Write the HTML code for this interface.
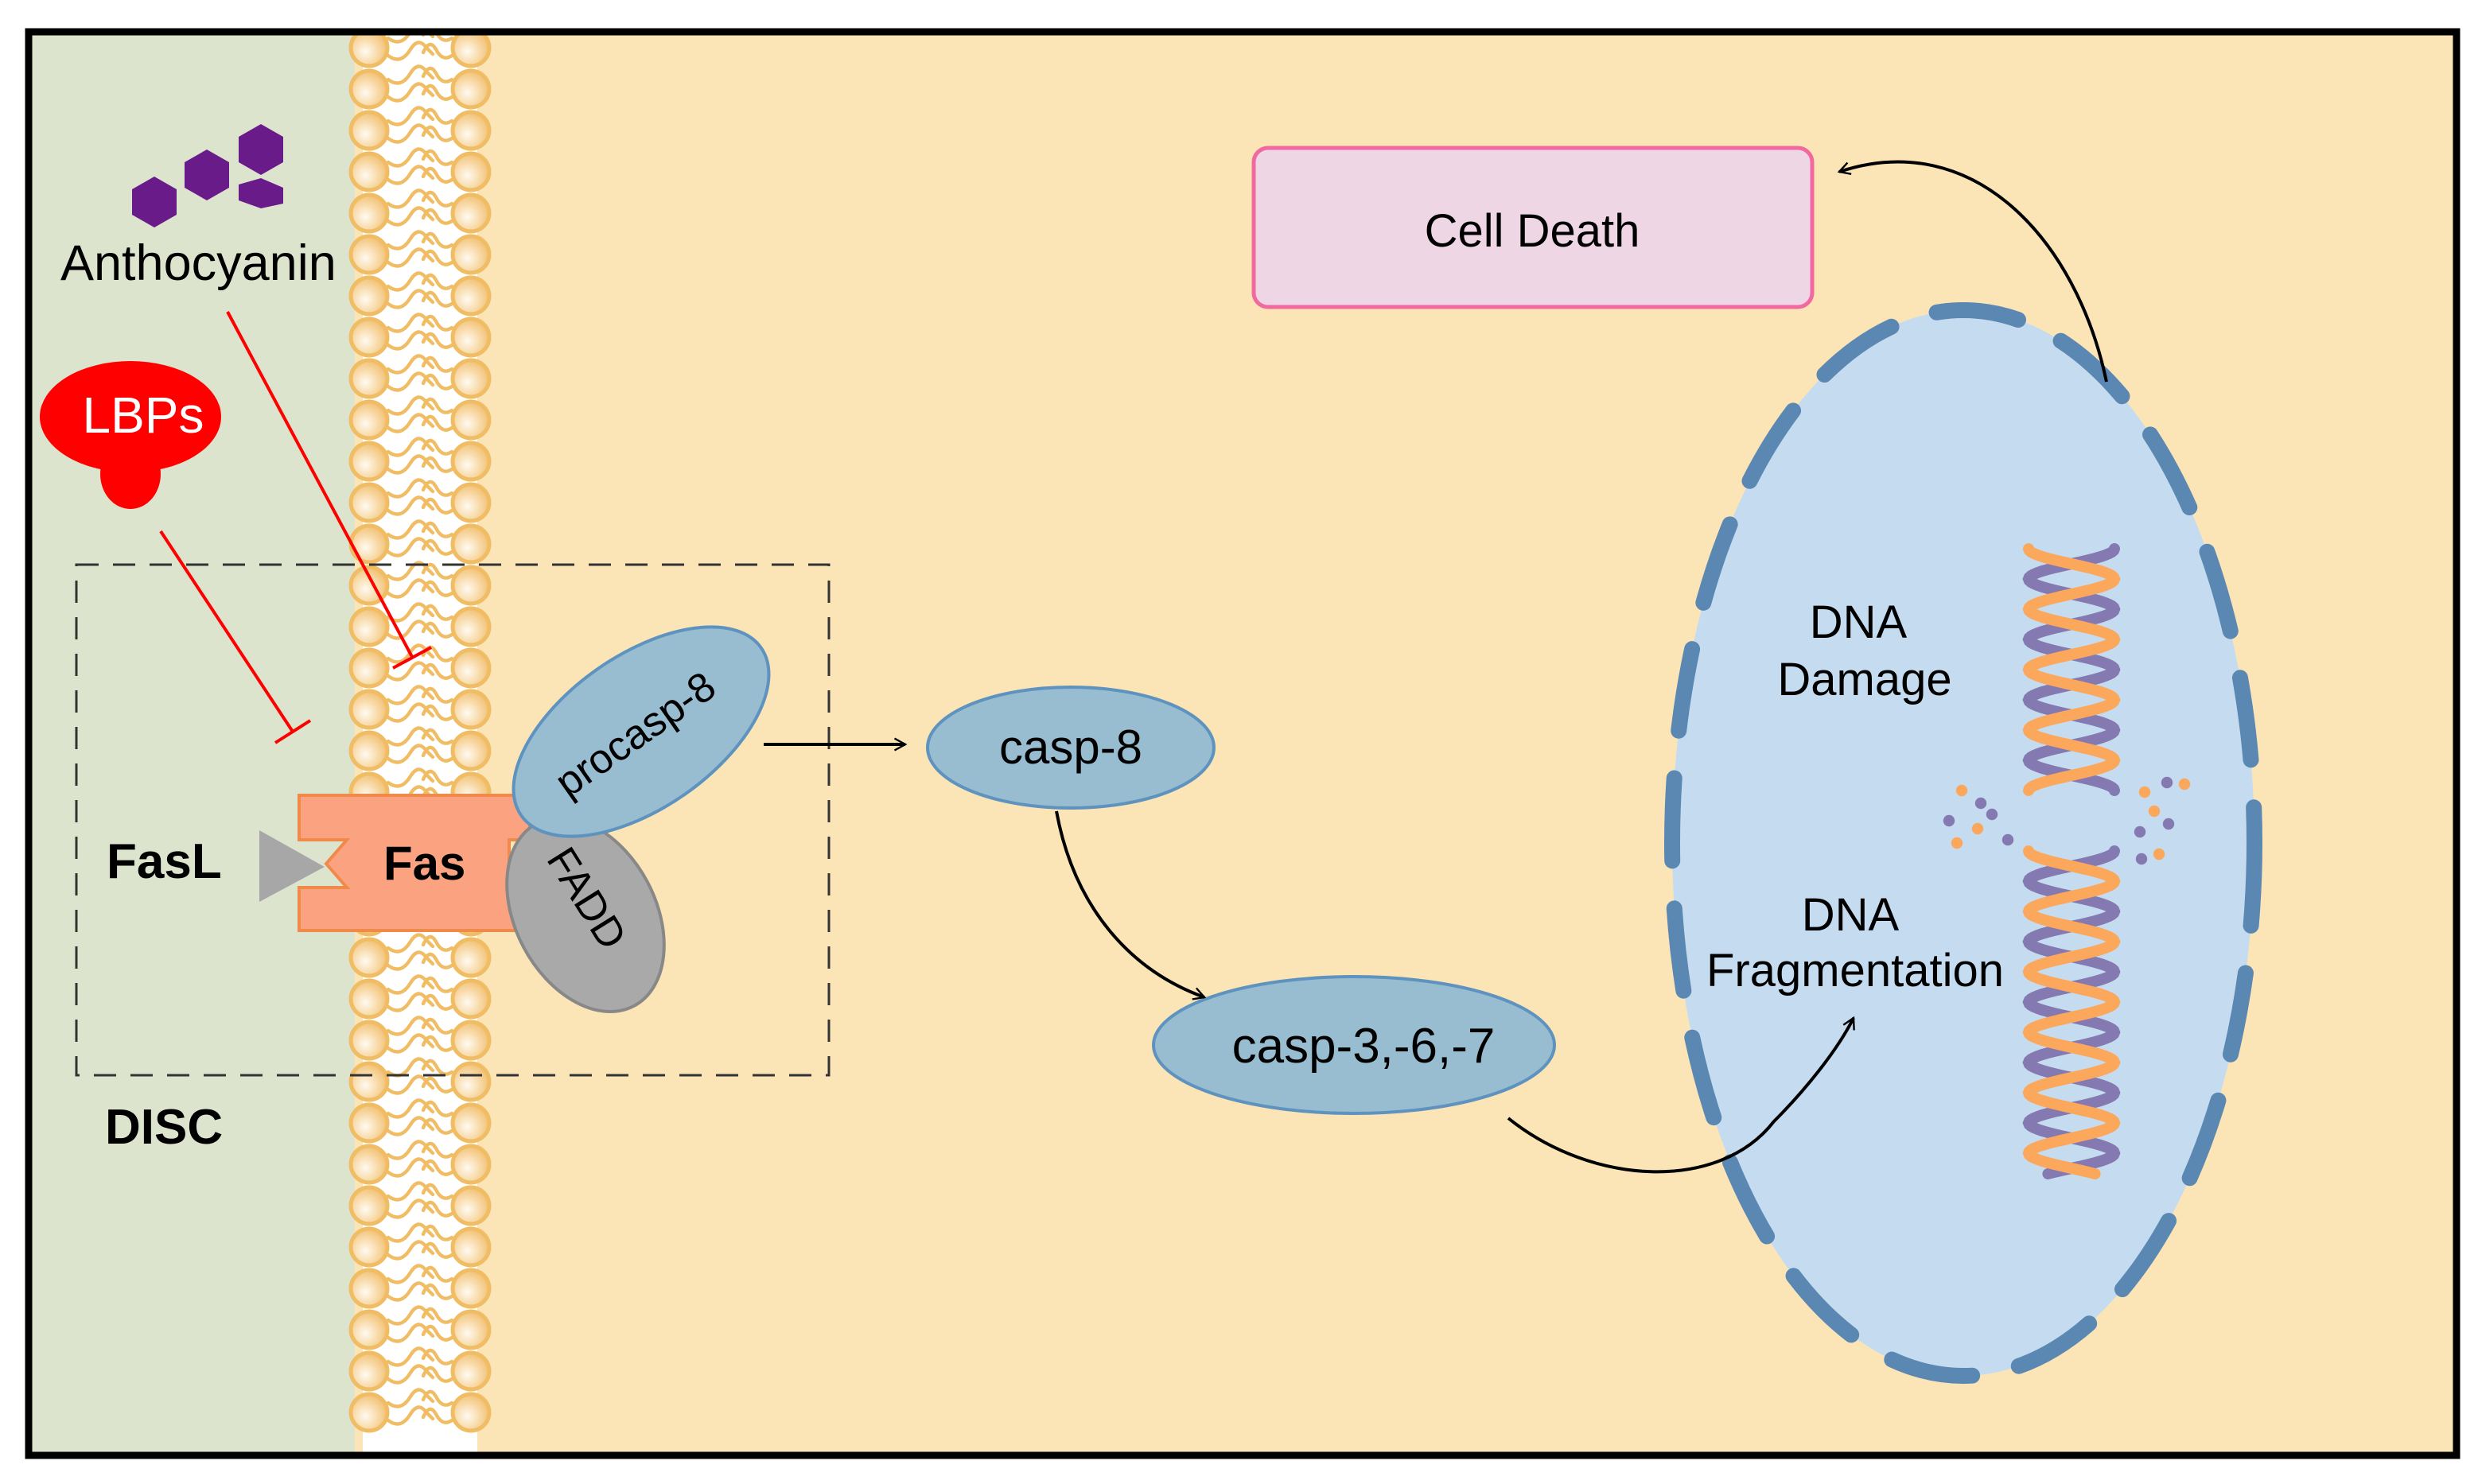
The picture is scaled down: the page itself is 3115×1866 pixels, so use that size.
<!DOCTYPE html>
<html><head><meta charset="utf-8"><style>
html,body{margin:0;padding:0;background:#fff;}
svg{display:block;font-family:"Liberation Sans",Arial,sans-serif;}
</style></head><body>
<svg id="s" width="3115" height="1866" viewBox="0 0 1557.5 933" xmlns="http://www.w3.org/2000/svg">
<defs>
<radialGradient id="ball" cx="0.4" cy="0.6" r="0.6"><stop offset="0" stop-color="#fffaf0"/><stop offset="1" stop-color="#f2c274"/></radialGradient>
<marker id="ar" viewBox="0 0 12 12" refX="10" refY="6" markerWidth="9" markerHeight="9" orient="auto" markerUnits="userSpaceOnUse"><path d="M1,1 L10,6 L1,11" fill="none" stroke="#000" stroke-width="1.6"/></marker>
<clipPath id="fr"><rect x="18" y="20" width="1526" height="895"/></clipPath>
</defs>
<rect x="18" y="20" width="1526" height="895" fill="#fbe5b7"/>
<rect x="18" y="20" width="205" height="895" fill="#dde4ce"/>
<rect x="228" y="22" width="72" height="891" fill="#fff"/>
<g id="mem" clip-path="url(#fr)"></g>
<rect x="18" y="20" width="1526" height="895" fill="none" stroke="#000" stroke-width="4.5"/>
<rect x="48" y="355" width="473" height="321" fill="none" stroke="#333" stroke-width="1.5" stroke-dasharray="14,9"/>
<path d="M188,500 H333 V528 H320 V558 H333 V585 H188 V558 H218 L205,543 L218,528 H188 Z" fill="#fba380" stroke="#f08a4b" stroke-width="2"/>
<polygon points="163,522 163,567 204,545" fill="#a7a7a7"/>
<text x="67" y="552" font-size="31" font-weight="bold">FasL</text>
<text x="241" y="553" font-size="30" font-weight="bold">Fas</text>
<ellipse cx="368" cy="575" rx="44" ry="65" transform="rotate(-28 368 575)" fill="#a9a9a9" stroke="#888" stroke-width="2"/>
<text x="0" y="0" font-size="26" transform="translate(343,540) rotate(58)">FADD</text>
<ellipse cx="403" cy="460" rx="92" ry="48" transform="rotate(-35 403 460)" fill="#98bcd0" stroke="#5f93bf" stroke-width="2"/>
<text font-size="26" transform="translate(357,502) rotate(-35)">procasp-8</text>
<text x="66" y="719" font-size="31" font-weight="bold">DISC</text>
<g fill="#6a1b8a">
<polygon points="97,111 111,119 111,135 97,143 83,135 83,119"/>
<polygon points="130,94 144,102 144,118 130,126 116,118 116,102"/>
<polygon points="164,78 178,86 178,102 164,110 150,102 150,86"/>
<polygon points="164,112 178,118 178,128 164,131 150,126 150,116"/>
</g>
<text x="38" y="176" font-size="31.5">Anthocyanin</text>
<ellipse cx="82" cy="262" rx="57" ry="35" fill="#f00"/>
<ellipse cx="82" cy="298" rx="19" ry="22" fill="#f00"/>
<rect x="70" y="285" width="24" height="10" fill="#f00"/>
<text x="90" y="272" font-size="32" fill="#fff" text-anchor="middle">LBPs</text>
<g stroke="#f00" stroke-width="2" fill="none">
<line x1="143" y1="196" x2="259" y2="413"/><line x1="247" y1="420" x2="271" y2="407"/>
<line x1="101" y1="334" x2="184" y2="460"/><line x1="173" y1="467" x2="195" y2="453"/>
</g>
<ellipse cx="673" cy="470" rx="90" ry="38" fill="#98bcd0" stroke="#5f93bf" stroke-width="2"/>
<text x="673" y="480" font-size="30" text-anchor="middle">casp-8</text>
<ellipse cx="851" cy="657" rx="126" ry="43" fill="#98bcd0" stroke="#5f93bf" stroke-width="2"/>
<text x="857" y="668" font-size="31" text-anchor="middle">casp-3,-6,-7</text>
<rect x="788" y="93" width="351" height="100" rx="9" fill="#efd6e4" stroke="#f06a9f" stroke-width="2.5"/>
<text x="963" y="155" font-size="29" text-anchor="middle">Cell Death</text>
<ellipse cx="1234" cy="530" rx="183" ry="335" fill="#c5dcf0" stroke="#5b87b3" stroke-width="10" stroke-dasharray="52,30" stroke-linecap="round"/>
<g id="dna"></g>
<text x="1168" y="401" font-size="29" text-anchor="middle">DNA</text>
<text x="1172" y="437" font-size="29" text-anchor="middle">Damage</text>
<text x="1163" y="585" font-size="29" text-anchor="middle">DNA</text>
<text x="1166" y="620" font-size="29" text-anchor="middle">Fragmentation</text>
<g stroke="#000" stroke-width="2" fill="none" marker-end="url(#ar)">
<line x1="480" y1="468" x2="569" y2="468"/>
<path d="M664,510 C675,570 710,610 757,627"/>
<path d="M948,703 C1000,745 1080,750 1115,705 C1135,685 1155,660 1165,640"/>
<path d="M1324,240 C1305,150 1240,80 1156,108"/>
</g>
</svg>
<script>
var mem=document.getElementById("mem"),h="";
for(var y=30;y<=910;y+=26){
 h+='<path d="M244,'+(y-6)+' q8,6 14,-4 q5,-8 10,-1 l4,4 M244,'+(y+5)+' q8,6 14,-4 q5,-8 10,-1 l4,4 M284,'+(y-6)+' q-6,4 -10,-4 q-4,-7 -8,2 M284,'+(y+5)+' q-6,4 -10,-4 q-4,-7 -8,2" fill="none" stroke="#f0bd65" stroke-width="2.2" stroke-linecap="round"/>';
 h+='<circle cx="232" cy="'+y+'" r="11.5" fill="url(#ball)" stroke="#f0bd65" stroke-width="2.5"/>';
 h+='<circle cx="296" cy="'+y+'" r="11.5" fill="url(#ball)" stroke="#f0bd65" stroke-width="2.5"/>';
}
mem.innerHTML=h;
function helix(y0,y1,ph){
 var a="",b="";
 for(var y=y0;y<=y1;y+=1){
  var t=(y-y0)/38*2*Math.PI;
  var xa=1302+27*Math.sin(t+ph), xb=1302-27*Math.sin(t+ph);
  a+=(y==y0?"M":"L")+xa.toFixed(1)+","+y;
  b+=(y==y0?"M":"L")+xb.toFixed(1)+","+y;
 }
 return '<path d="'+b+'" fill="none" stroke="#8479b1" stroke-width="7" stroke-linecap="round"/><path d="'+a+'" fill="none" stroke="#fca85c" stroke-width="7" stroke-linecap="round"/>';
}
var d=helix(345,497,-Math.PI/2)+helix(535,738,-Math.PI/2);
var dots=[[1233,497,"o"],[1245,505,"p"],[1225,516,"p"],[1243,521,"o"],[1252,512,"p"],[1230,530,"o"],[1262,528,"p"],[1348,498,"o"],[1362,492,"p"],[1373,493,"o"],[1354,510,"o"],[1363,518,"p"],[1345,523,"p"],[1357,537,"o"],[1346,540,"p"]];
dots.forEach(function(p){d+='<circle cx="'+p[0]+'" cy="'+p[1]+'" r="3.6" fill="'+(p[2]=="o"?"#fca85c":"#8479b1")+'"/>';});
document.getElementById("dna").innerHTML=d;
</script>
</body></html>
